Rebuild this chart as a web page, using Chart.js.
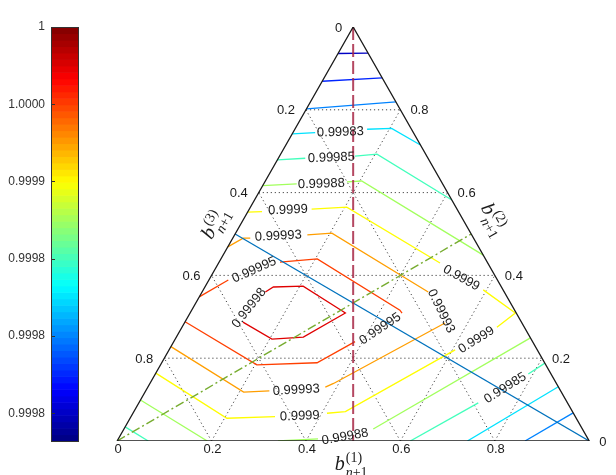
<!DOCTYPE html>
<html>
<head>
<meta charset="utf-8">
<script src="https://cdn.jsdelivr.net/npm/chart.js@4/dist/chart.umd.min.js"></script>
<style>
  html, body { margin: 0; padding: 0; background: #fff; }
  #wrap { width: 616px; height: 475px; }
</style>
</head>
<body>
<div id="wrap"><canvas id="c" width="616" height="475"></canvas></div>
<script>
// ---- colour scale ----
const CB_MIN = 0.999732, CB_MAX = 1.0;
const CB_TICKS = [1, 0.99995, 0.9999, 0.99985, 0.9998, 0.99975];
const CB_LABELS = ['1', '1.0000', '0.9999', '0.9998', '0.9998', '0.9998'];

// ---- ternary axes ----
const AXIS_TICKS = [0, 0.2, 0.4, 0.6, 0.8];
const AXIS_TICK_LABELS = ['0', '0.2', '0.4', '0.6', '0.8'];
const GRID_STEPS = [0.2, 0.4, 0.6, 0.8];

// ---- contour levels; pieces are lists of [b1, b2] points (b3 = 1 - b1 - b2) ----
const LEVELS = [0.99975, 0.999775, 0.9998, 0.999825, 0.99985, 0.999875, 0.9999, 0.999925, 0.99995, 0.999975];
const level_99975 = [[[0, 0.936], [0.063, 0.937]]];
const level_999775 = [[[0, 0.869], [0.123, 0.877]]];
const level_9998 = [[[0, 0.802], [0.181, 0.819]], [[0.864, 0], [0.932, 0.068]]];
const level_999825 = [
  [[0, 0.742], [0.047, 0.745]],
  [[0.153, 0.753], [0.204, 0.755], [0.285, 0.715]],
  [[0.742, 0], [0.869, 0.131]]
];
const level_99985 = [
  [[0, 0.679], [0.057, 0.683]],
  [[0.160, 0.688], [0.204, 0.693], [0.418, 0.582]],
  [[0.621, 0], [0.719, 0.092]],
  [[0.790, 0.162], [0.812, 0.188]],
  [[0, 0.034], [0.066, 0]]
];
const level_999875 = [
  [[0, 0.617], [0.070, 0.621]],
  [[0.174, 0.626], [0.204, 0.628], [0.551, 0.449]],
  [[0.341, 0], [0.423, 0.005]],
  [[0.528, 0.029], [0.751, 0.249]],
  [[0, 0.099], [0.191, 0]]
];
const level_9999 = [
  [[0, 0.553], [0.030, 0.554]],
  [[0.132, 0.560], [0.204, 0.565], [0.469, 0.430]],
  [[0.593, 0.365], [0.689, 0.309], [0.667, 0.275]],
  [[0.606, 0.220], [0.448, 0.071], [0.411, 0.067]],
  [[0.305, 0.059], [0.205, 0.055], [0, 0.164]]
];
const level_999925 = [
  [[0, 0.469], [0.022, 0.490], [0.037, 0.490]],
  [[0.154, 0.498], [0.204, 0.502], [0.479, 0.360]],
  [[0.552, 0.285], [0.389, 0.139], [0.376, 0.130]],
  [[0.262, 0.121], [0.209, 0.118], [0, 0.228]]
];
const level_99995 = [
  [[0, 0.348], [0.041, 0.389]],
  [[0.129, 0.432], [0.204, 0.440], [0.441, 0.316], [0.449, 0.309]],
  [[0.384, 0.240], [0.329, 0.189], [0.204, 0.184], [0, 0.288]]
];
const level_999975 = [
  [[0.134, 0.360], [0.145, 0.372], [0.207, 0.374], [0.320, 0.314], [0.329, 0.309],
   [0.269, 0.251], [0.205, 0.246], [0.123, 0.287]]
];
const CONTOURS = [level_99975, level_999775, level_9998, level_999825, level_99985,
                  level_999875, level_9999, level_999925, level_99995, level_999975];

// inline contour labels: text, b1, b2, angle (deg)
const CONTOUR_LABELS = [
  ['0.99983', 0.100, 0.746, -2],
  ['0.99985', 0.112, 0.684, -2],
  ['0.99988', 0.122, 0.621, -2],
  ['0.9999', 0.083, 0.558, -2],
  ['0.99993', 0.094, 0.495, -3],
  ['0.99995', 0.084, 0.413, -24],
  ['0.99998', 0.119, 0.321, -52],
  ['0.99995', 0.422, 0.271, -34],
  ['0.99993', 0.529, 0.314, 64],
  ['0.9999', 0.532, 0.394, 29],
  ['0.9999', 0.639, 0.244, -32],
  ['0.99985', 0.758, 0.128, -32],
  ['0.99993', 0.318, 0.123, -3],
  ['0.9999', 0.357, 0.060, -2],
  ['0.99988', 0.478, 0.010, -10]
];

// reference lines
const GUIDE_VERTICAL = [[0, 1], [0.5, 0]];
const GUIDE_GREEN = [[0, 0], [0.5, 0.5]];
const GUIDE_BLUE = [[1, 0], [0, 0.5]];
const FRAME = [[0, 0], [1, 0], [0, 1], [0, 0]];

// ---- helpers ----
const toXY = ([b1, b2]) => ({ x: b1 + b2 / 2, y: b2 });
const clamp = v => Math.max(0, Math.min(1, v));
function jet(t) {
  const r = clamp(1.5 - Math.abs(4 * t - 3));
  const g = clamp(1.5 - Math.abs(4 * t - 2));
  const b = clamp(1.5 - Math.abs(4 * t - 1));
  return `rgb(${Math.round(r * 255)},${Math.round(g * 255)},${Math.round(b * 255)})`;
}
const levelColor = v => jet((v - CB_MIN) / (CB_MAX - CB_MIN));

function lineSet(points, color, width, order, dash) {
  return {
    data: points.map(toXY), showLine: true, borderColor: color, borderWidth: width,
    pointRadius: 0, tension: 0, order: order, borderDash: dash || [], fill: false
  };
}

const datasets = [];
datasets.push(lineSet(FRAME, '#1a1a1a', 1.3, 0));
GRID_STEPS.forEach(t => {
  datasets.push(lineSet([[0, t], [1 - t, t]], '#444', 1, 20, [1.2, 2.8]));
  datasets.push(lineSet([[t, 0], [t, 1 - t]], '#444', 1, 20, [1.2, 2.8]));
  datasets.push(lineSet([[1 - t, 0], [0, 1 - t]], '#444', 1, 20, [1.2, 2.8]));
});
CONTOURS.forEach((pieces, i) => {
  pieces.forEach(p => datasets.push(lineSet(p, levelColor(LEVELS[i]), 1.3, 10)));
});
datasets.push(lineSet(GUIDE_BLUE, '#0072BD', 1.3, 3));
datasets.push(lineSet(GUIDE_GREEN, '#77AC30', 1.4, 2, [9, 3, 2, 3]));
datasets.push(lineSet(GUIDE_VERTICAL, 'rgba(168,40,70,0.85)', 2, 1, [13, 4]));

function drawTitle(ctx, cx, cy, ang, sup) {
  ctx.save();
  ctx.translate(cx, cy);
  ctx.rotate(ang * Math.PI / 180);
  const fb = 'italic 20px "Liberation Serif"';
  const fs = '14px "Liberation Serif"';
  const fi = 'italic 14px "Liberation Serif"';
  ctx.font = fb; const wb = ctx.measureText('b').width;
  ctx.font = fs; const ws = ctx.measureText(sup).width; const wp = ctx.measureText('+1').width;
  ctx.font = fi; const wn = ctx.measureText('n').width;
  const tot = wb + 1 + Math.max(ws, wn + wp);
  const x0 = -tot / 2;
  ctx.fillStyle = '#1a1a1a';
  ctx.textAlign = 'left';
  ctx.textBaseline = 'alphabetic';
  ctx.font = fb; ctx.fillText('b', x0, 4);
  ctx.font = fs; ctx.fillText(sup, x0 + wb + 1, -4);
  ctx.font = fi; ctx.fillText('n', x0 + wb + 1, 11);
  ctx.font = fs; ctx.fillText('+1', x0 + wb + 1 + wn, 11);
  ctx.restore();
}

const overlay = {
  id: 'overlay',
  beforeDatasetsDraw(chart) {
    const { ctx, scales: { cb }, chartArea } = chart;
    const left = chartArea.left, w = 27;
    ctx.save();
    const n = 64;
    for (let i = 0; i < n; i++) {
      const v0 = CB_MIN + (CB_MAX - CB_MIN) * i / n;
      const v1 = CB_MIN + (CB_MAX - CB_MIN) * (i + 1) / n;
      const p0 = cb.getPixelForValue(v0), p1 = cb.getPixelForValue(v1);
      ctx.fillStyle = jet((i + 0.5) / n);
      ctx.fillRect(left, p1, w, p0 - p1 + 0.6);
    }
    const top = cb.getPixelForValue(CB_MAX), bot = cb.getPixelForValue(CB_MIN);
    ctx.strokeStyle = '#333';
    ctx.lineWidth = 1;
    ctx.strokeRect(left + 0.5, top + 0.5, w, bot - top);
    CB_TICKS.forEach(v => {
      const py = Math.round(cb.getPixelForValue(v)) + 0.5;
      ctx.beginPath(); ctx.moveTo(left, py); ctx.lineTo(left + 4, py); ctx.stroke();
    });
    ctx.restore();
  },
  afterDatasetsDraw(chart) {
    const { ctx, scales: { x, y } } = chart;
    const P = (b1, b2) => { const q = toXY([b1, b2]); return [x.getPixelForValue(q.x), y.getPixelForValue(q.y)]; };
    ctx.save();
    ctx.fillStyle = '#1a1a1a';
    ctx.font = '13px "Liberation Sans", Arial, sans-serif';
    // bottom axis (b1)
    ctx.textAlign = 'center'; ctx.textBaseline = 'middle';
    AXIS_TICKS.forEach((t, i) => { const [px, py] = P(t, 0); ctx.fillText(AXIS_TICK_LABELS[i], px + 1, py + 8); });
    // right axis (b2)
    ctx.textAlign = 'left';
    AXIS_TICKS.forEach((t, i) => { const [px, py] = P(1 - t, t); ctx.fillText(AXIS_TICK_LABELS[i], px + 10, py + 1); });
    // left axis (b3)
    ctx.textAlign = 'right';
    AXIS_TICKS.forEach((t, i) => { const [px, py] = P(0, 1 - t); ctx.fillText(AXIS_TICK_LABELS[i], px - 11, py + 1); });

    // contour labels
    ctx.textAlign = 'center'; ctx.textBaseline = 'middle';
    ctx.font = '13px "Liberation Sans", Arial, sans-serif';
    CONTOUR_LABELS.forEach(([txt, b1, b2, a]) => {
      const [px, py] = P(b1, b2);
      ctx.save(); ctx.translate(px, py); ctx.rotate(a * Math.PI / 180);
      ctx.fillText(txt, 0, 0);
      ctx.restore();
    });

    // axis titles
    const [bx, by] = P(0.5, 0);
    drawTitle(ctx, bx - 2, by + 25, 0, '(1)');
    const [lx, ly] = P(0, 0.5);
    drawTitle(ctx, lx - 19, ly - 10, -60.3, '(3)');
    const [rx, ry] = P(0.5, 0.5);
    drawTitle(ctx, rx + 21, ry - 14, 60.3, '(2)');
    ctx.restore();
  }
};

new Chart(document.getElementById('c'), {
  type: 'scatter',
  data: { datasets },
  options: {
    responsive: false,
    animation: false,
    events: [],
    layout: { padding: { left: 0, right: 6, top: 27, bottom: 34 } },
    plugins: { legend: { display: false }, tooltip: { enabled: false } },
    scales: {
      x: { type: 'linear', display: false, min: -0.14, max: 1.044 },
      y: { type: 'linear', display: false, min: 0, max: 1 },
      cb: {
        type: 'linear', position: 'left', min: CB_MIN, max: CB_MAX,
        grid: { display: false, drawTicks: false },
        border: { display: false },
        afterBuildTicks: s => { s.ticks = CB_TICKS.map(v => ({ value: v })); },
        afterFit: s => { s.width = 51; },
        ticks: {
          autoSkip: false, padding: 6, color: '#333',
          font: { family: '"Liberation Sans", Arial, sans-serif', size: 12 },
          callback: v => CB_LABELS[CB_TICKS.indexOf(v)]
        }
      }
    }
  },
  plugins: [overlay]
});
</script>
</body>
</html>
